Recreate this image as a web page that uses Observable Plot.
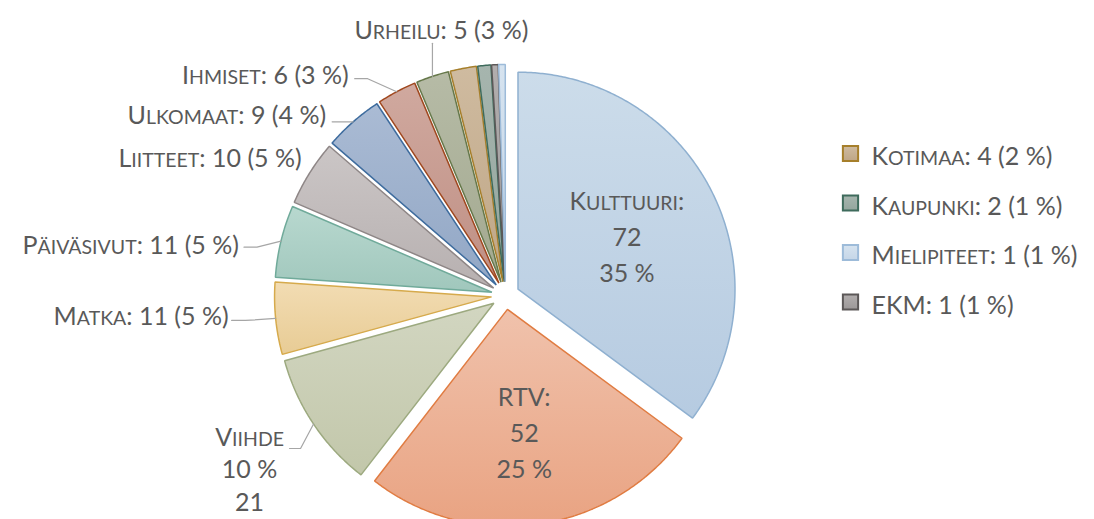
<!DOCTYPE html>
<html>
<head>
<meta charset="utf-8">
<script src="https://cdn.jsdelivr.net/npm/d3@7"></script>
<script src="https://cdn.jsdelivr.net/npm/@observablehq/plot@0.6"></script>
<style>
  html, body { margin: 0; padding: 0; background: #fff; }
  #chart { width: 1094px; height: 519px; overflow: hidden; }
</style>
</head>
<body>
<div id="chart"></div>
<script>
// ---- data ----
const categories = ["Kulttuuri","RTV","Viihde","Matka","Päiväsivut","Liitteet","Ulkomaat","Ihmiset","Urheilu","Kotimaa","Kaupunki","EKM","Mielipiteet"];
const values     = [72, 52, 21, 11, 11, 10, 9, 6, 5, 4, 2, 1, 1];
const percents   = [35, 25, 10, 5, 5, 5, 4, 3, 3, 2, 1, 1, 1];
const legendCategories = ["Kotimaa","Kaupunki","Mielipiteet","EKM"];

// ---- styles ----
const sliceStyles = {
  "Kulttuuri":   {top:"#ccdcea", bottom:"#b6cbe1", stroke:"#8fb0d0"},
  "RTV":         {top:"#f0c2ac", bottom:"#e9a382", stroke:"#e07c42"},
  "Viihde":      {top:"#d2d6c1", bottom:"#c2c7aa", stroke:"#9ca97f"},
  "Matka":       {top:"#f2dcb3", bottom:"#e8cc95", stroke:"#d6aa4c"},
  "Päiväsivut":  {top:"#b8d8cf", bottom:"#a0c7bc", stroke:"#70aa9a"},
  "Liitteet":    {top:"#cbc6c6", bottom:"#b7b0b0", stroke:"#8e8686"},
  "Ulkomaat":    {top:"#aabbd4", bottom:"#92a7c5", stroke:"#3e6c9e"},
  "Ihmiset":     {top:"#d0a99f", bottom:"#bf8f84", stroke:"#a0481f"},
  "Urheilu":     {top:"#b6bba6", bottom:"#a3a990", stroke:"#66784a"},
  "Kotimaa":     {top:"#cfbba0", bottom:"#bfa686", stroke:"#a67f2b"},
  "Kaupunki":    {top:"#a6b5ae", bottom:"#94a69e", stroke:"#3e6b5c"},
  "EKM":         {top:"#b2aeae", bottom:"#9c9898", stroke:"#5c5858"},
  "Mielipiteet": {top:"#d6e3ef", bottom:"#c5d6e8", stroke:"#9dbbd9"}
};
const textColor = "#595959";
const leaderColor = "#a6a6a6";
const fontFamily = "Lato, 'Open Sans', sans-serif";
const fontSize = 25;
const smallCapsScale = "0.78em";

// ---- pie geometry ----
const W = 1094, H = 519;
const cx = 505, cy = 295, R = 217, explode = 14;
const pt = (x0, y0, r, a) => ({x: x0 + r * Math.sin(a), y: y0 - r * Math.cos(a)});

const arcs = d3.pie().sort(null).value(d => d.value)(categories.map((c, i) => ({category: c, value: values[i], pct: percents[i]})));
const slices = arcs.map((a, i) => {
  const mid = (a.startAngle + a.endAngle) / 2;
  const apex = pt(cx, cy, explode, mid);
  const pts = [{...apex}];
  const n = Math.max(2, Math.ceil((a.endAngle - a.startAngle) / (Math.PI / 360)));
  for (let k = 0; k <= n; k++) {
    const ang = a.startAngle + (a.endAngle - a.startAngle) * k / n;
    pts.push(pt(apex.x, apex.y, R, ang));
  }
  return {i, category: a.data.category, value: a.data.value, pct: a.data.pct, mid, apex, outer: pt(apex.x, apex.y, R, mid), pts};
});
const byCat = Object.fromEntries(slices.map(s => [s.category, s]));

// ---- label layout (offsets from the slice's outer mid-arc point) ----
const outsideLayout = [
  {category:"Matka",      dx:-47, dy:-5,  anchor:"end", ldx:-44, ldy:2,   elbow:14},
  {category:"Päiväsivut", dx:-42, dy:1,   anchor:"end", ldx:-37, ldy:6,   elbow:13},
  {category:"Liitteet",   dx:-8,  dy:-17, anchor:"end", ldx:null},
  {category:"Ulkomaat",   dx:-27, dy:-9,  anchor:"end", ldx:-21, ldy:0,   elbow:14},
  {category:"Ihmiset",    dx:-48, dy:-19, anchor:"end", ldx:-42, ldy:-13, elbow:13},
  {category:"Urheilu",    dx:9,   dy:-49, anchor:"middle", ldx:0, ldy:-33, elbow:0}
];
const viihdeLayout = {category:"Viihde", dx:-64, dy:44, ldx:-24, ldy:24.5, elbow:11};
const insideCats = ["Kulttuuri","RTV"];
const insideDist = 122;

const labelText = (s, kind) => {
  if (kind === "inside") return `${s.category}:\n${s.value}\n${s.pct} %`;
  if (kind === "viihde") return `${s.category}\n${s.pct} %\n${s.value}`;
  return `${s.category}: ${s.value} (${s.pct} %)`;
};

const outsideLabels = outsideLayout.map(l => {
  const s = byCat[l.category];
  return {x: s.outer.x + l.dx, y: s.outer.y + l.dy, anchor: l.anchor, text: labelText(s, "single")};
});
const viihdeLabel = (() => {
  const s = byCat[viihdeLayout.category];
  return [{x: s.outer.x + viihdeLayout.dx, y: s.outer.y + viihdeLayout.dy, text: labelText(s, "viihde")}];
})();
const insideLabels = insideCats.map(c => {
  const s = byCat[c];
  const p = pt(s.apex.x, s.apex.y, insideDist, s.mid);
  return {x: p.x, y: p.y, text: labelText(s, "inside")};
});
const leaders = [...outsideLayout, viihdeLayout].filter(l => l.ldx !== null).flatMap(l => {
  const s = byCat[l.category];
  const S = {x: s.outer.x + l.ldx, y: s.outer.y + l.ldy};
  return [
    {name: l.category, x: S.x, y: S.y},
    {name: l.category, x: S.x + l.elbow, y: S.y},
    {name: l.category, x: s.outer.x, y: s.outer.y}
  ];
});

// ---- legend layout ----
const legendX = 850, legendTextX = 871, legendY0 = 153, legendStep = 49.5;
const legendItems = legendCategories.map((c, k) => {
  const s = byCat[c];
  return {category: c, idx: s.i, x: legendX, tx: legendTextX, y: legendY0 + k * legendStep, text: labelText(s, "single")};
});

// ---- gradient defs ----
const defsMark = () => {
  const defs = d3.create("svg:defs");
  slices.forEach(s => {
    const st = sliceStyles[s.category];
    const g = defs.append("linearGradient").attr("id", "grad" + s.i)
      .attr("x1", 0).attr("y1", 0).attr("x2", 0).attr("y2", 1);
    g.append("stop").attr("offset", "0%").attr("stop-color", st.top);
    g.append("stop").attr("offset", "100%").attr("stop-color", st.bottom);
  });
  return defs.node();
};

const textCommon = {fontFamily, fontSize, fill: textColor, lineHeight: 1.44};

const chart = Plot.plot({
  width: W,
  height: H,
  margin: 0,
  x: {type: "identity", axis: null},
  y: {type: "identity", axis: null},
  style: {background: "#fff"},
  marks: [
    defsMark,
    ...slices.map(s => Plot.line(s.pts, {
      x: "x", y: "y", curve: "linear-closed",
      fill: `url(#grad${s.i})`, stroke: sliceStyles[s.category].stroke, strokeWidth: 1.5, strokeLinejoin: "miter"
    })),
    Plot.line(leaders, {x: "x", y: "y", z: "name", stroke: leaderColor, strokeWidth: 1.2}),
    Plot.text(outsideLabels.filter(d => d.anchor === "end"), {x: "x", y: "y", text: "text", textAnchor: "end", ...textCommon}),
    Plot.text(outsideLabels.filter(d => d.anchor === "middle"), {x: "x", y: "y", text: "text", textAnchor: "middle", ...textCommon}),
    Plot.text(viihdeLabel, {x: "x", y: "y", text: "text", textAnchor: "middle", ...textCommon, lineHeight: 1.3}),
    Plot.text(insideLabels, {x: "x", y: "y", text: "text", textAnchor: "middle", ...textCommon}),
    ...legendItems.map(d => Plot.dot([d], {
      x: "x", y: "y", symbol: "square", r: 8.6,
      fill: `url(#grad${d.idx})`, stroke: sliceStyles[d.category].stroke, strokeWidth: 2
    })),
    Plot.text(legendItems, {x: "tx", y: "y", text: "text", textAnchor: "start", ...textCommon})
  ]
});

// Office-style small caps: lowercase letters become capitals at a reduced size
function applySmallCaps(svg) {
  const NS = "http://www.w3.org/2000/svg";
  svg.querySelectorAll('g[aria-label="text"] text').forEach(t => {
    const spans = t.querySelectorAll("tspan");
    const targets = spans.length ? [...spans] : [t];
    targets.forEach(el => {
      const str = el.textContent;
      const runs = [];
      for (const ch of str) {
        const small = ch !== ch.toUpperCase();
        if (runs.length && runs[runs.length - 1].small === small) runs[runs.length - 1].s += ch;
        else runs.push({small, s: ch});
      }
      if (!runs.some(r => r.small)) return;
      el.textContent = "";
      runs.forEach(r => {
        const ts = document.createElementNS(NS, "tspan");
        if (r.small) { ts.setAttribute("font-size", smallCapsScale); ts.textContent = r.s.toUpperCase(); }
        else ts.textContent = r.s;
        el.appendChild(ts);
      });
    });
  });
}
applySmallCaps(chart);
document.getElementById("chart").appendChild(chart);
</script>
</body>
</html>
